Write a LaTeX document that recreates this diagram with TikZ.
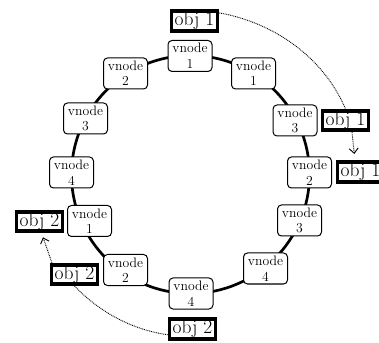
\documentclass[tikz,border=0pt]{standalone}
\usetikzlibrary{calc,arrows.meta}
\tikzset{
  vnode/.style={draw, line width=1pt, rounded corners=4pt, fill=white, align=center,
    minimum width=44pt, minimum height=31pt, inner sep=1.5pt,
    font=\fontsize{13.7}{15.5}\selectfont},
  obj/.style={draw, line width=3.6pt, fill=white, minimum width=46pt, minimum height=18.5pt,
    inner sep=1pt, font=\fontsize{19.5}{20}\selectfont},
  ring/.style={line width=2.7pt},
  move/.style={dash pattern=on 0.9pt off 0.9pt, line width=0.9pt},
  movearrow/.style={move, -{Straight Barb[length=5pt,width=9pt]}},
}
\begin{document}
\begin{tikzpicture}[x=1pt,y=1pt]
\useasboundingbox (0,0) rectangle (379,342);
\coordinate (c) at (190.5,167.5);
\draw[ring] (c) circle[radius=119];
\node[vnode] (n1)  at (190,286)    {vnode\\1};
\node[vnode] (n2)  at (253.5,268.5) {vnode\\1};
\node[vnode] (n3)  at (295,221.5)  {vnode\\3};
\node[vnode] (n4)  at (309.5,169.5) {vnode\\2};
\node[vnode] (n5)  at (299.5,121.5) {vnode\\3};
\node[vnode] (n6)  at (265.5,73.5) {vnode\\4};
\node[vnode] (n7)  at (191,48.5)   {vnode\\4};
\node[vnode] (n8)  at (125.5,72)   {vnode\\2};
\node[vnode] (n9)  at (89.5,121)   {vnode\\1};
\node[vnode] (n10) at (71.5,169.5) {vnode\\4};
\node[vnode] (n11) at (85.5,223.5) {vnode\\3};
\node[vnode] (n12) at (125.5,268.5) {vnode\\2};
\node[obj] (o1a) at (194.5,321) {obj 1};
\node[obj] (o1b) at (345.5,221.5) {obj 1};
\node[obj] (o1c) at (360.5,170) {obj 1};
\node[obj] (o2a) at (39.5,120.5) {obj 2};
\node[obj] (o2b) at (74.5,67.5) {obj 2};
\node[obj] (o2c) at (192.5,13) {obj 2};
\draw[move] (o1a.18) to[out=-10,in=113,looseness=0.9] (o1b.north);
\draw[move] (o2c.193) to[out=172,in=-46,looseness=0.88] (o2b.south);
\draw[movearrow, shorten >=6.5pt] ($(o1b.south)+(6.5,0)$) -- ($(o1c.north)+(-5.5,0)$);
\draw[movearrow, shorten >=4.5pt] ($(o2b.north)+(-22.5,0)$) -- ($(o2a.south)+(2,0)$);
\end{tikzpicture}
\end{document}
